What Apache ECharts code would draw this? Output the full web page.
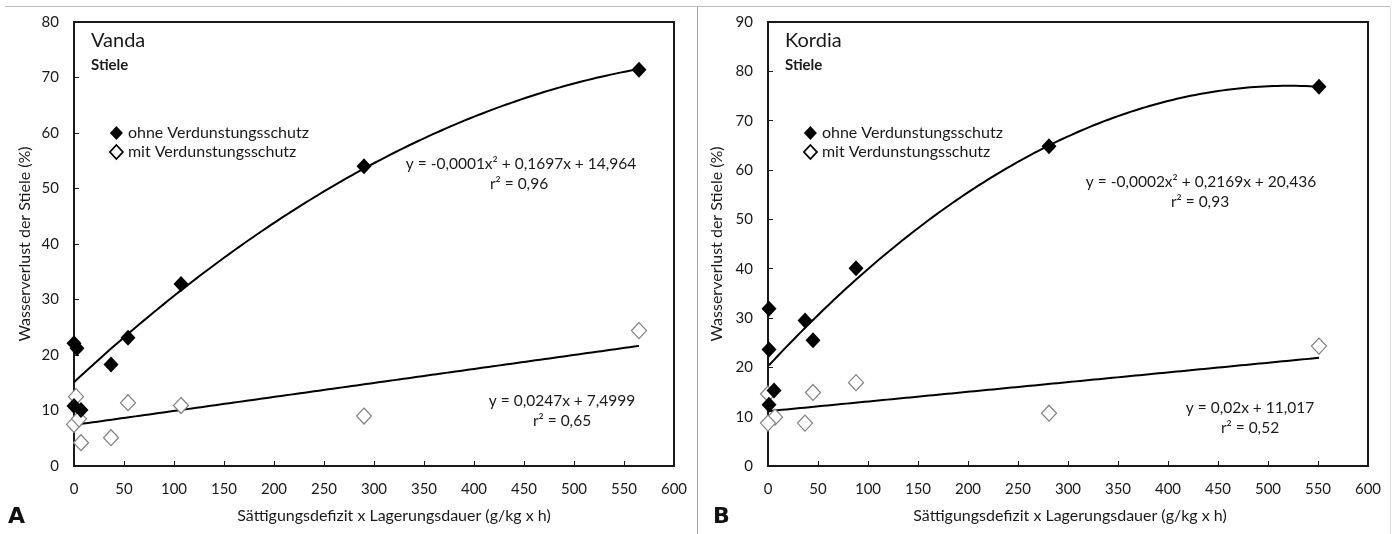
<!DOCTYPE html>
<html>
<head>
<meta charset="utf-8">
<script src="https://cdn.jsdelivr.net/npm/echarts@6/dist/echarts.min.js"></script>
<style>
html,body{margin:0;padding:0;background:#fff;}
#c{width:1395px;height:534px;}
</style>
</head>
<body>
<div id="c"></div>
<script>
// ---- data ----
const vandaOhneX = [0, 3, 0, 7, 37, 54, 107, 290, 565];
const vandaOhneY = [22.1, 21.2, 10.8, 10.1, 18.3, 23.1, 32.8, 54.0, 71.4];
const vandaMitX  = [2, 0, 5, 7, 37, 54, 107, 290, 565];
const vandaMitY  = [12.5, 7.5, 8.5, 4.2, 5.1, 11.4, 10.9, 9.0, 24.4];

const kordiaOhneX = [1, 1, 6, 1, 37, 45, 88, 281, 551];
const kordiaOhneY = [31.9, 23.6, 15.3, 12.4, 29.5, 25.5, 40.1, 64.8, 76.9];
const kordiaMitX  = [0, 7, 0, 37, 45, 88, 281, 551];
const kordiaMitY  = [14.6, 9.9, 8.7, 8.7, 14.9, 16.9, 10.7, 24.3];

const xTicks = [0, 50, 100, 150, 200, 250, 300, 350, 400, 450, 500, 550, 600];
const yMaxVanda = 80, yMaxKordia = 90;

const seriesOhne = 'ohne Verdunstungsschutz';
const seriesMit = 'mit Verdunstungsschutz';
const panelTitles = ['Vanda', 'Kordia'];
const subTitle = 'Stiele';
const panelLetters = ['A', 'B'];
const xTitle = 'Sättigungsdefizit x Lagerungsdauer (g/kg x h)';
const yTitle = 'Wasserverlust der Stiele (%)';
const eqVandaQuad = ['y = -0,0001x\u00B2 + 0,1697x + 14,964', 'r\u00B2 = 0,96'];
const eqVandaLin  = ['y = 0,0247x + 7,4999', 'r\u00B2 = 0,65'];
const eqKordiaQuad = ['y = -0,0002x\u00B2 + 0,2169x + 20,436', 'r\u00B2 = 0,93'];
const eqKordiaLin  = ['y = 0,02x + 11,017', 'r\u00B2 = 0,52'];

// ---- least-squares trend lines (as in the spreadsheet) ----
function polyfit(xs, ys, deg) {
  const n = deg + 1;
  const A = [], b = [];
  for (let i = 0; i < n; i++) {
    A.push([]);
    for (let j = 0; j < n; j++) {
      let s = 0; xs.forEach(x => s += Math.pow(x, i + j)); A[i].push(s);
    }
    let t = 0; xs.forEach((x, k) => t += ys[k] * Math.pow(x, i)); b.push(t);
  }
  for (let i = 0; i < n; i++) {
    let p = i;
    for (let r = i + 1; r < n; r++) if (Math.abs(A[r][i]) > Math.abs(A[p][i])) p = r;
    [A[i], A[p]] = [A[p], A[i]]; [b[i], b[p]] = [b[p], b[i]];
    for (let r = i + 1; r < n; r++) {
      const f = A[r][i] / A[i][i];
      for (let c = i; c < n; c++) A[r][c] -= f * A[i][c];
      b[r] -= f * b[i];
    }
  }
  const co = new Array(n).fill(0);
  for (let i = n - 1; i >= 0; i--) {
    let s = b[i];
    for (let c = i + 1; c < n; c++) s -= A[i][c] * co[c];
    co[i] = s / A[i][i];
  }
  return co;
}
function trend(xs, ys, deg) {
  const co = polyfit(xs, ys, deg);
  const x0 = Math.min(...xs), x1 = Math.max(...xs);
  const pts = [];
  for (let k = 0; k <= 120; k++) {
    const x = x0 + (x1 - x0) * k / 120;
    let y = 0; co.forEach((c, i) => y += c * Math.pow(x, i));
    pts.push([x, y]);
  }
  return pts;
}
const zip = (a, b) => a.map((v, i) => [v, b[i]]);

const FONT = 'Lato';
const INK = '#1a1a1a';

const grids = [
  {left: 74, top: 22, width: 600, height: 444},
  {left: 768, top: 22, width: 600, height: 444}
];

function xAx(gi) {
  return {
    gridIndex: gi, type: 'value', min: 0, max: 600, interval: 50,
    axisLine: {onZero: false, lineStyle: {color: INK, width: 2}},
    axisTick: {inside: true, length: 5, lineStyle: {color: INK, width: 1}},
    axisLabel: {fontSize: 15, color: INK, margin: 16, fontFamily: FONT},
    splitLine: {show: false}
  };
}
function yAx(gi, max) {
  return {
    gridIndex: gi, type: 'value', min: 0, max: max, interval: 10,
    axisLine: {onZero: false, lineStyle: {color: INK, width: 2}},
    axisTick: {inside: true, length: 5, lineStyle: {color: INK, width: 1}},
    axisLabel: {fontSize: 15, color: INK, margin: 15, fontFamily: FONT},
    splitLine: {show: false}
  };
}

const filled = {color: '#000', opacity: 1};
const open = {color: '#fff', borderColor: '#808080', borderWidth: 1.2, opacity: 1};

function panelSeries(gi, ohX, ohY, miX, miY) {
  return [
    {type: 'line', name: 'trendQ' + gi, xAxisIndex: gi, yAxisIndex: gi, data: trend(ohX, ohY, 2),
     showSymbol: false, silent: true, lineStyle: {color: '#000', width: 2}, z: 3},
    {type: 'line', name: 'trendL' + gi, xAxisIndex: gi, yAxisIndex: gi, data: trend(miX, miY, 1),
     showSymbol: false, silent: true, lineStyle: {color: '#000', width: 2}, z: 3},
    {type: 'scatter', name: seriesMit, xAxisIndex: gi, yAxisIndex: gi, data: zip(miX, miY),
     symbol: 'diamond', symbolSize: [15, 16], itemStyle: open, z: 4},
    {type: 'scatter', name: seriesOhne, xAxisIndex: gi, yAxisIndex: gi, data: zip(ohX, ohY),
     symbol: 'diamond', symbolSize: [15, 16], itemStyle: filled, z: 5}
  ];
}

function legend(left) {
  return {
    left: left, top: 120, orient: 'vertical', itemWidth: 13, itemHeight: 14, itemGap: 3,
    textStyle: {fontSize: 16, fontFamily: FONT, color: INK},
    data: [
      {name: seriesOhne, icon: 'diamond', itemStyle: {color: '#000', opacity: 1}},
      {name: seriesMit, icon: 'diamond', itemStyle: {color: '#fff', borderColor: '#000', borderWidth: 1.8, opacity: 1}}
    ],
    selectedMode: false
  };
}

function txt(x, y, text, size, opts) {
  opts = opts || {};
  return {
    type: 'text', x: x, y: y, rotation: opts.rot || 0, z: 10,
    style: {
      text: text, fontSize: size, fontFamily: opts.family || FONT, fill: opts.fill || INK,
      fontWeight: opts.weight || 'normal',
      align: opts.align || 'center', verticalAlign: 'middle'
    }
  };
}
function frameLine(x1, y1, x2, y2, color) {
  return {type: 'line', shape: {x1, y1, x2, y2}, style: {stroke: color, lineWidth: 1}, z: 1};
}

const graphics = [
  frameLine(5, 6.5, 1390, 6.5, '#bdbdbd'),
  frameLine(697.5, 6.5, 697.5, 534, '#a8a8a8'),
  frameLine(1390.5, 6.5, 1390.5, 534, '#e2e2e2'),
  // plot frames (top/right sides)
  {type: 'rect', shape: {x: 74, y: 22, width: 600, height: 444}, style: {fill: 'none', stroke: INK, lineWidth: 2}, z: 2},
  {type: 'rect', shape: {x: 768, y: 22, width: 600, height: 444}, style: {fill: 'none', stroke: INK, lineWidth: 2}, z: 2},
  // panel titles
  txt(91, 41, panelTitles[0], 20, {align: 'left'}),
  txt(91, 65, subTitle, 15, {align: 'left', weight: 'bold'}),
  txt(785, 41, panelTitles[1], 20, {align: 'left'}),
  txt(785, 65, subTitle, 15, {align: 'left', weight: 'bold'}),
  // equations
  txt(521, 164, eqVandaQuad[0], 15.5),
  txt(519, 184, eqVandaQuad[1], 15.5),
  txt(562, 401, eqVandaLin[0], 15.5),
  txt(562, 421, eqVandaLin[1], 15.5),
  txt(1201, 182, eqKordiaQuad[0], 15.5),
  txt(1200, 202, eqKordiaQuad[1], 15.5),
  txt(1250, 408, eqKordiaLin[0], 15.5),
  txt(1250, 428, eqKordiaLin[1], 15.5),
  // axis titles
  txt(394, 516, xTitle, 16),
  txt(1070, 516, xTitle, 16),
  txt(25, 244, yTitle, 16, {rot: Math.PI / 2}),
  txt(717, 244, yTitle, 16, {rot: Math.PI / 2}),
  // panel letters
  txt(8, 517, panelLetters[0], 22, {align: 'left', weight: 'bold', fill: '#111', family: 'DejaVu Sans'}),
  txt(713, 517, panelLetters[1], 22, {align: 'left', weight: 'bold', fill: '#111', family: 'DejaVu Sans'})
];

const chart = echarts.init(document.getElementById('c'), null, {renderer: 'canvas'});
chart.setOption({
  animation: false,
  backgroundColor: '#fff',
  textStyle: {fontFamily: FONT},
  grid: grids,
  xAxis: [xAx(0), xAx(1)],
  yAxis: [yAx(0, yMaxVanda), yAx(1, yMaxKordia)],
  legend: [legend(104), legend(798)],
  series: [].concat(
    panelSeries(0, vandaOhneX, vandaOhneY, vandaMitX, vandaMitY),
    panelSeries(1, kordiaOhneX, kordiaOhneY, kordiaMitX, kordiaMitY)
  ),
  graphic: graphics
});
</script>
</body>
</html>
